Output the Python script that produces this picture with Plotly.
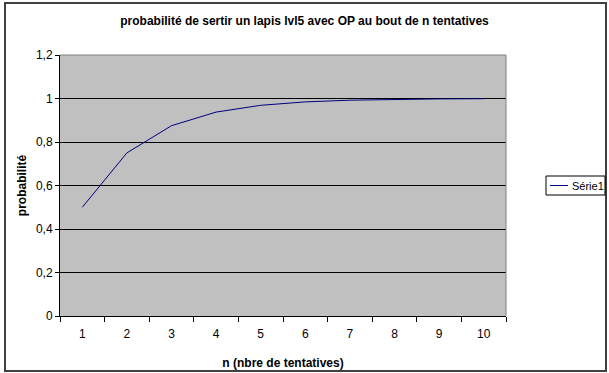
import plotly.graph_objects as go

n_values = [1, 2, 3, 4, 5, 6, 7, 8, 9, 10]
probabilite = [0.5, 0.75, 0.875, 0.9375, 0.96875, 0.984375, 0.9921875,
               0.99609375, 0.998046875, 0.999023438]
series_name = "Série1"
title_text = "probabilité de sertir un lapis lvl5 avec OP au bout de n tentatives"
x_title = "n (nbre de tentatives)"
y_title = "probabilité"

W, H = 609, 373
L, R, T, B = 60, 103, 55, 57
pw, ph = W - L - R, H - T - B
LINE_COLOR = "#000080"

def px(x):
    return (x - L) / pw

def py(y):
    return (H - B - y) / ph

FONT = "Liberation Sans, Arial, sans-serif"

fig = go.Figure()
fig.add_trace(go.Scatter(
    x=n_values, y=probabilite, mode="lines", name=series_name,
    line=dict(color=LINE_COLOR, width=1), showlegend=False,
))

# legend box drawn in the Excel style (compact)
leg_x0, leg_x1, leg_y0, leg_y1 = 546, 605, 176, 195
shapes = [
    dict(type="rect", xref="paper", yref="paper",
         x0=px(5), x1=px(606), y0=py(371), y1=py(3),
         line=dict(color="#404040", width=2), fillcolor="rgba(0,0,0,0)",
         layer="below"),
    dict(type="line", xref="paper", yref="paper",
         x0=1, x1=1, y0=0, y1=1, line=dict(color="#808080", width=1)),
    dict(type="line", xref="paper", yref="paper",
         x0=0, x1=1, y0=1, y1=1, line=dict(color="#808080", width=1)),
    dict(type="rect", xref="paper", yref="paper",
         x0=px(leg_x0), x1=px(leg_x1), y0=py(leg_y1), y1=py(leg_y0),
         line=dict(color="black", width=1), fillcolor="white"),
    dict(type="line", xref="paper", yref="paper",
         x0=px(leg_x0 + 4), x1=px(leg_x0 + 22),
         y0=py((leg_y0 + leg_y1) / 2), y1=py((leg_y0 + leg_y1) / 2),
         line=dict(color=LINE_COLOR, width=1)),
]
annotations = [
    dict(text=series_name, xref="paper", yref="paper",
         x=px(leg_x0 + 24), y=py((leg_y0 + leg_y1) / 2),
         xanchor="left", yanchor="middle", showarrow=False,
         font=dict(size=11, family=FONT, color="black")),
]

fig.update_layout(
    width=W, height=H, autosize=False,
    margin=dict(l=L, r=R, t=T, b=B, autoexpand=False),
    paper_bgcolor="white",
    plot_bgcolor="#c0c0c0",
    separators=",.",
    font=dict(family=FONT, size=12, color="black"),
    title=dict(text="<b>" + title_text + "</b>", x=0.5, xref="container",
               xanchor="center", y=1 - 21 / H, yanchor="middle",
               font=dict(size=12)),
    showlegend=False,
    xaxis=dict(
        range=[0.5, 10.5], tickvals=n_values, ticks="", showgrid=False,
        showline=True, linecolor="black", linewidth=1, zeroline=False,
        tickfont=dict(size=12), ticklabelstandoff=7,
        minor=dict(tick0=0.5, dtick=1, ticks="outside", ticklen=5,
                   tickcolor="black", tickwidth=1, showgrid=False),
        title=dict(text="<b>" + x_title + "</b>", standoff=18,
                   font=dict(size=12)),
    ),
    yaxis=dict(
        range=[0, 1.2], dtick=0.2, tick0=0, showgrid=True,
        gridcolor="black", gridwidth=1, ticks="outside", ticklen=4,
        tickcolor="black", showline=True, linecolor="black", linewidth=1,
        zeroline=False, mirror=False, tickfont=dict(size=12),
        title=dict(text="<b>" + y_title + "</b>", standoff=6,
                   font=dict(size=12)),
    ),
    shapes=shapes,
    annotations=annotations,
)

fig.write_html(
    "out.html",
    config={"responsive": False, "displayModeBar": False},
    default_width="609px", default_height="373px",
    post_script="document.body.style.margin='0';document.body.style.overflow='hidden';",
)
